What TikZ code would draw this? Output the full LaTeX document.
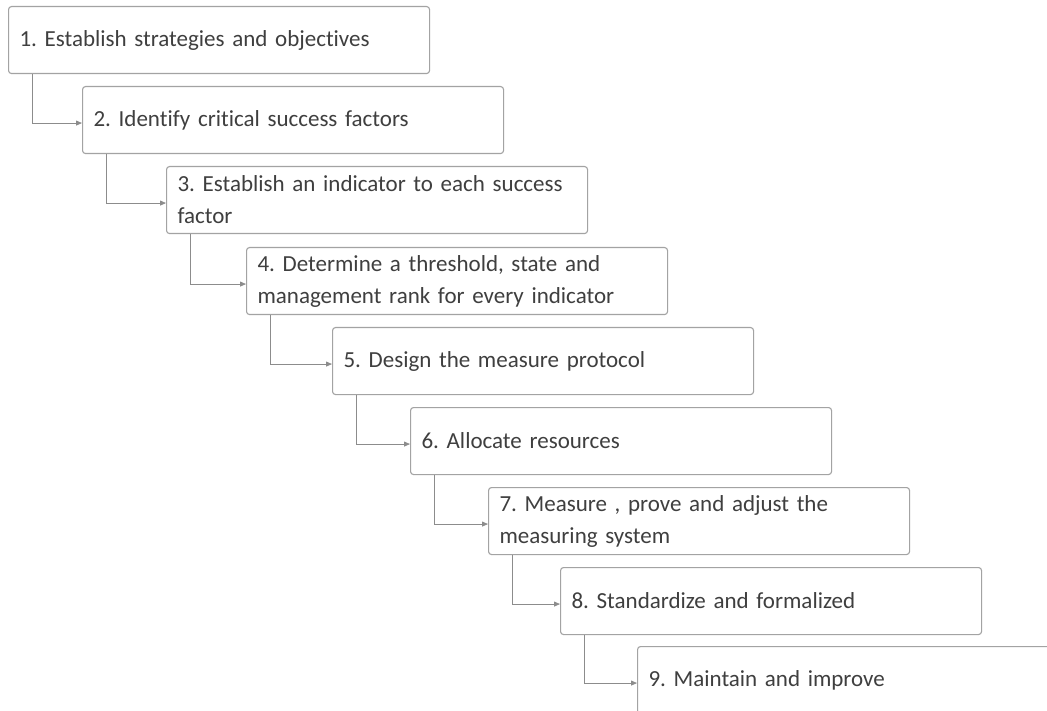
\documentclass[tikz,border=0pt]{standalone}
\usepackage{fontspec}
\setmainfont{Carlito}[Ligatures=NoCommon]
\usetikzlibrary{arrows.meta}
\frenchspacing

\definecolor{boxline}{HTML}{A3A3A3}
\definecolor{linkline}{HTML}{8C8C8C}
\definecolor{steptext}{HTML}{3F3F3F}

\tikzset{
  stepbox/.style={draw=boxline, line width=1.1pt, rounded corners=3pt, fill=white,
    anchor=north west, text width=399pt, inner xsep=11pt, inner ysep=2pt,
    minimum height=67pt, align=left, text=steptext,
    font=\fontsize{23pt}{32pt}\selectfont},
  link/.style={draw=linkline, line width=0.8pt, -{Triangle[length=6pt,width=5pt]}}
}

\begin{document}
\begin{tikzpicture}[x=1pt,y=-1pt]
        \clip (0,0) rectangle (1047,711);
        \fill[white] (0,0) rectangle (1047,711);

        % the steps, each one shifted down and to the right
        \node[stepbox] (s1) at (8,6)     {1. Establish strategies and objectives};
        \node[stepbox] (s2) at (82,86)   {2. Identify critical success factors};
        \node[stepbox] (s3) at (166,166) {3. Establish an indicator to each success\\factor};
        \node[stepbox] (s4) at (246,247) {4. Determine a threshold, state and\\management rank for every indicator};
        \node[stepbox] (s5) at (332,327) {5. Design the measure protocol};
        \node[stepbox] (s6) at (410,407) {6. Allocate resources};
        \node[stepbox] (s7) at (488,487) {7. Measure , prove and adjust the\\measuring system};
        \node[stepbox] (s8) at (560,567) {8. Standardize and formalized};
        \node[stepbox] (s9) at (637,646) {9. Maintain and improve};

        % elbow arrows between consecutive steps
        \foreach \a/\b in {1/2,2/3,3/4,4/5,5/6,6/7,7/8,8/9}
          \draw[link] ([xshift=24pt]s\a.south west) |- ([yshift=-3pt]s\b.west);
\end{tikzpicture}
\end{document}
